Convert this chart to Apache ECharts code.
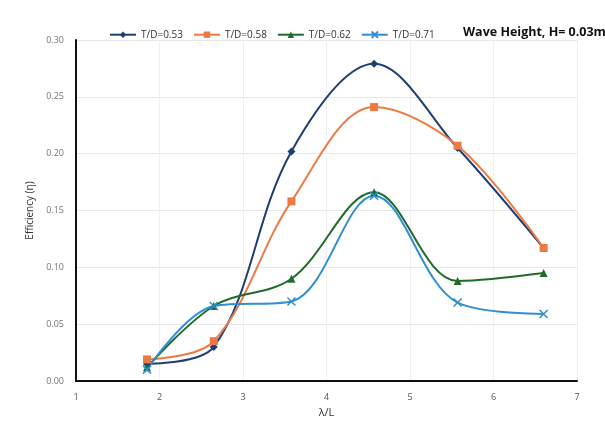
<!DOCTYPE html>
<html>
<head>
<meta charset="utf-8">
<script src="https://cdn.jsdelivr.net/npm/echarts@6/dist/echarts.min.js"></script>
<style>
  html, body { margin: 0; padding: 0; background: #fff; }
  #main { width: 605px; height: 432px; }
</style>
</head>
<body>
<div id="main"></div>
<script>
// wavelength ratio for each test
let xVals = [1.85, 2.65, 3.58, 4.57, 5.57, 6.6];
let td053 = [0.015, 0.030, 0.202, 0.279, 0.205, 0.117];
let td058 = [0.019, 0.035, 0.158, 0.241, 0.207, 0.117];
let td062 = [0.012, 0.066, 0.090, 0.166, 0.088, 0.095];
let td071 = [0.010, 0.066, 0.070, 0.163, 0.069, 0.059];
let names = ['T/D=0.53', 'T/D=0.58', 'T/D=0.62', 'T/D=0.71'];
let colors = ['#1f3f73', '#ec7a45', '#1f6b2c', '#2f8fd0'];
let symbols = ['diamond', 'rect', 'triangle', 'path://M0,0L10,10M10,0L0,10'];

let pairs = function(ys){
    let out = [];
    for(let i=0;i<xVals.length;i++){
        out[i] = [xVals[i], ys[i]];
    }
    return out;
};

let allY = [td053, td058, td062, td071];
let series = [];
for(let i=0;i<allY.length;i++){
    series[i] = {
        name: names[i],
        type: 'line',
        smooth: 0.35,
        data: pairs(allY[i]),
        symbol: symbols[i],
        symbolSize: 8,
        lineStyle: { color: colors[i], width: 2 },
        itemStyle: i == 3 ? { color: 'none', borderColor: colors[i], borderWidth: 1.5 } : { color: colors[i] }
    };
}

let option = {
    animation: false,
    title: {
        text: 'Wave Height, H= 0.03m',
        left: 458, top: 21,
        textStyle: { fontFamily: 'Open Sans', fontSize: 12.5, fontWeight: 'bold', color: '#111' }
    },
    legend: {
        left: 104, top: 24,
        itemGap: 10, itemWidth: 26, itemHeight: 8,
        textStyle: { fontFamily: 'Open Sans', fontSize: 10, color: '#333' },
        data: names
    },
    grid: { left: 76, right: 28, top: 40, bottom: 51 },
    xAxis: {
        type: 'value', min: 1, max: 7, interval: 1,
        name: 'λ/L', nameLocation: 'middle', nameGap: 22,
        nameTextStyle: { fontFamily: 'Open Sans', fontSize: 11, color: '#333' },
        axisLine: { lineStyle: { color: '#111', width: 2 } },
        axisTick: { show: false },
        axisLabel: { fontFamily: 'Open Sans', fontSize: 9, color: '#555', margin: 12 },
        splitLine: { show: true, lineStyle: { color: '#f0f0f0' } }
    },
    yAxis: {
        type: 'value', min: 0, max: 0.3, interval: 0.05,
        name: 'Efficiency (η)', nameLocation: 'middle', nameGap: 36,
        nameTextStyle: { fontFamily: 'Open Sans', fontSize: 10, color: '#333' },
        axisLine: { show: true, lineStyle: { color: '#111', width: 2 } },
        axisTick: { show: false },
        axisLabel: { fontFamily: 'Open Sans', fontSize: 9, color: '#777', margin: 12,
            formatter: function(v){ return v.toFixed(2); } },
        splitLine: { lineStyle: { color: '#e8e8e8' } }
    },
    series: series
};

let mychart = echarts.init(document.getElementById('main'));
mychart.setOption(option);
</script>
</body>
</html>
